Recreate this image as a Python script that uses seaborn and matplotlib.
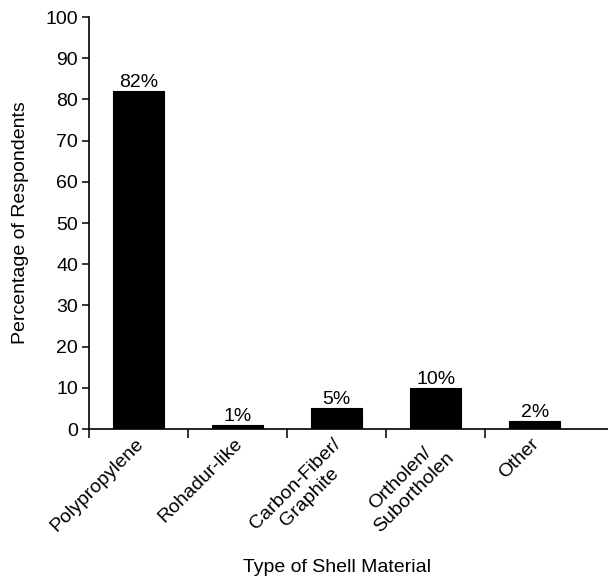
import matplotlib
matplotlib.use("Agg")
import matplotlib.pyplot as plt
import seaborn as sns
import pandas as pd

materials = ["Polypropylene", "Rohadur-like", "Carbon-Fiber/\nGraphite",
             "Ortholen/\nSubortholen", "Other"]
percentages = [82, 1, 5, 10, 2]
y_ticks = [0, 10, 20, 30, 40, 50, 60, 70, 80, 90, 100]

sns.set_theme(style="white")
plt.rcParams["font.family"] = ["Liberation Sans", "DejaVu Sans"]
plt.rcParams.update({"text.color": "black", "axes.labelcolor": "black",
                     "xtick.color": "black", "ytick.color": "black"})

df = pd.DataFrame({"material": materials, "pct": percentages})

fig = plt.figure(figsize=(6.08, 5.8), dpi=100)
ax = fig.add_axes([89 / 608, 1 - 429 / 580, 1 - 89 / 608, (429 - 17) / 580])

sns.barplot(data=df, x="material", y="pct", color="black", width=0.51,
            edgecolor="black", linewidth=0.8, saturation=1, ax=ax)

ax.set_ylim(0, 100)
ax.set_xlim(-0.5, 4.74)
ax.set_yticks(y_ticks)
ax.set_yticklabels([str(v) for v in y_ticks], fontsize=14, color="black")

# category boundaries carry the x tick marks; names sit at the bar centres
ax.set_xticks([i - 0.5 for i in range(len(materials))])
ax.set_xticklabels([])
ax.tick_params(axis="x", direction="out", length=6.5, width=1.1, color="black", bottom=True)
ax.tick_params(axis="y", direction="out", length=5, width=1.1, color="black", left=True, pad=3)

for i, name in enumerate(materials):
    ax.text(i - 0.04, -1.5, name, rotation=45, ha="right", va="top",
            rotation_mode="anchor", multialignment="center", fontsize=14,
            color="black", transform=ax.transData)

for i, v in enumerate(percentages):
    ax.text(i, v + 1.0, f"{v}%", ha="center", va="baseline", fontsize=14,
            color="black")

for side in ("top", "right"):
    ax.spines[side].set_visible(False)
for side in ("left", "bottom"):
    ax.spines[side].set_color("black")
    ax.spines[side].set_linewidth(1.2)

ax.set_xlabel("Type of Shell Material", fontsize=14, color="black")
ax.xaxis.set_label_coords(2.0, -0.315, transform=ax.get_xaxis_transform())
ax.set_ylabel("Percentage of Respondents", fontsize=14, color="black")
ax.yaxis.set_label_coords(-0.115, 0.5)

fig.savefig("out.png", dpi=100)
